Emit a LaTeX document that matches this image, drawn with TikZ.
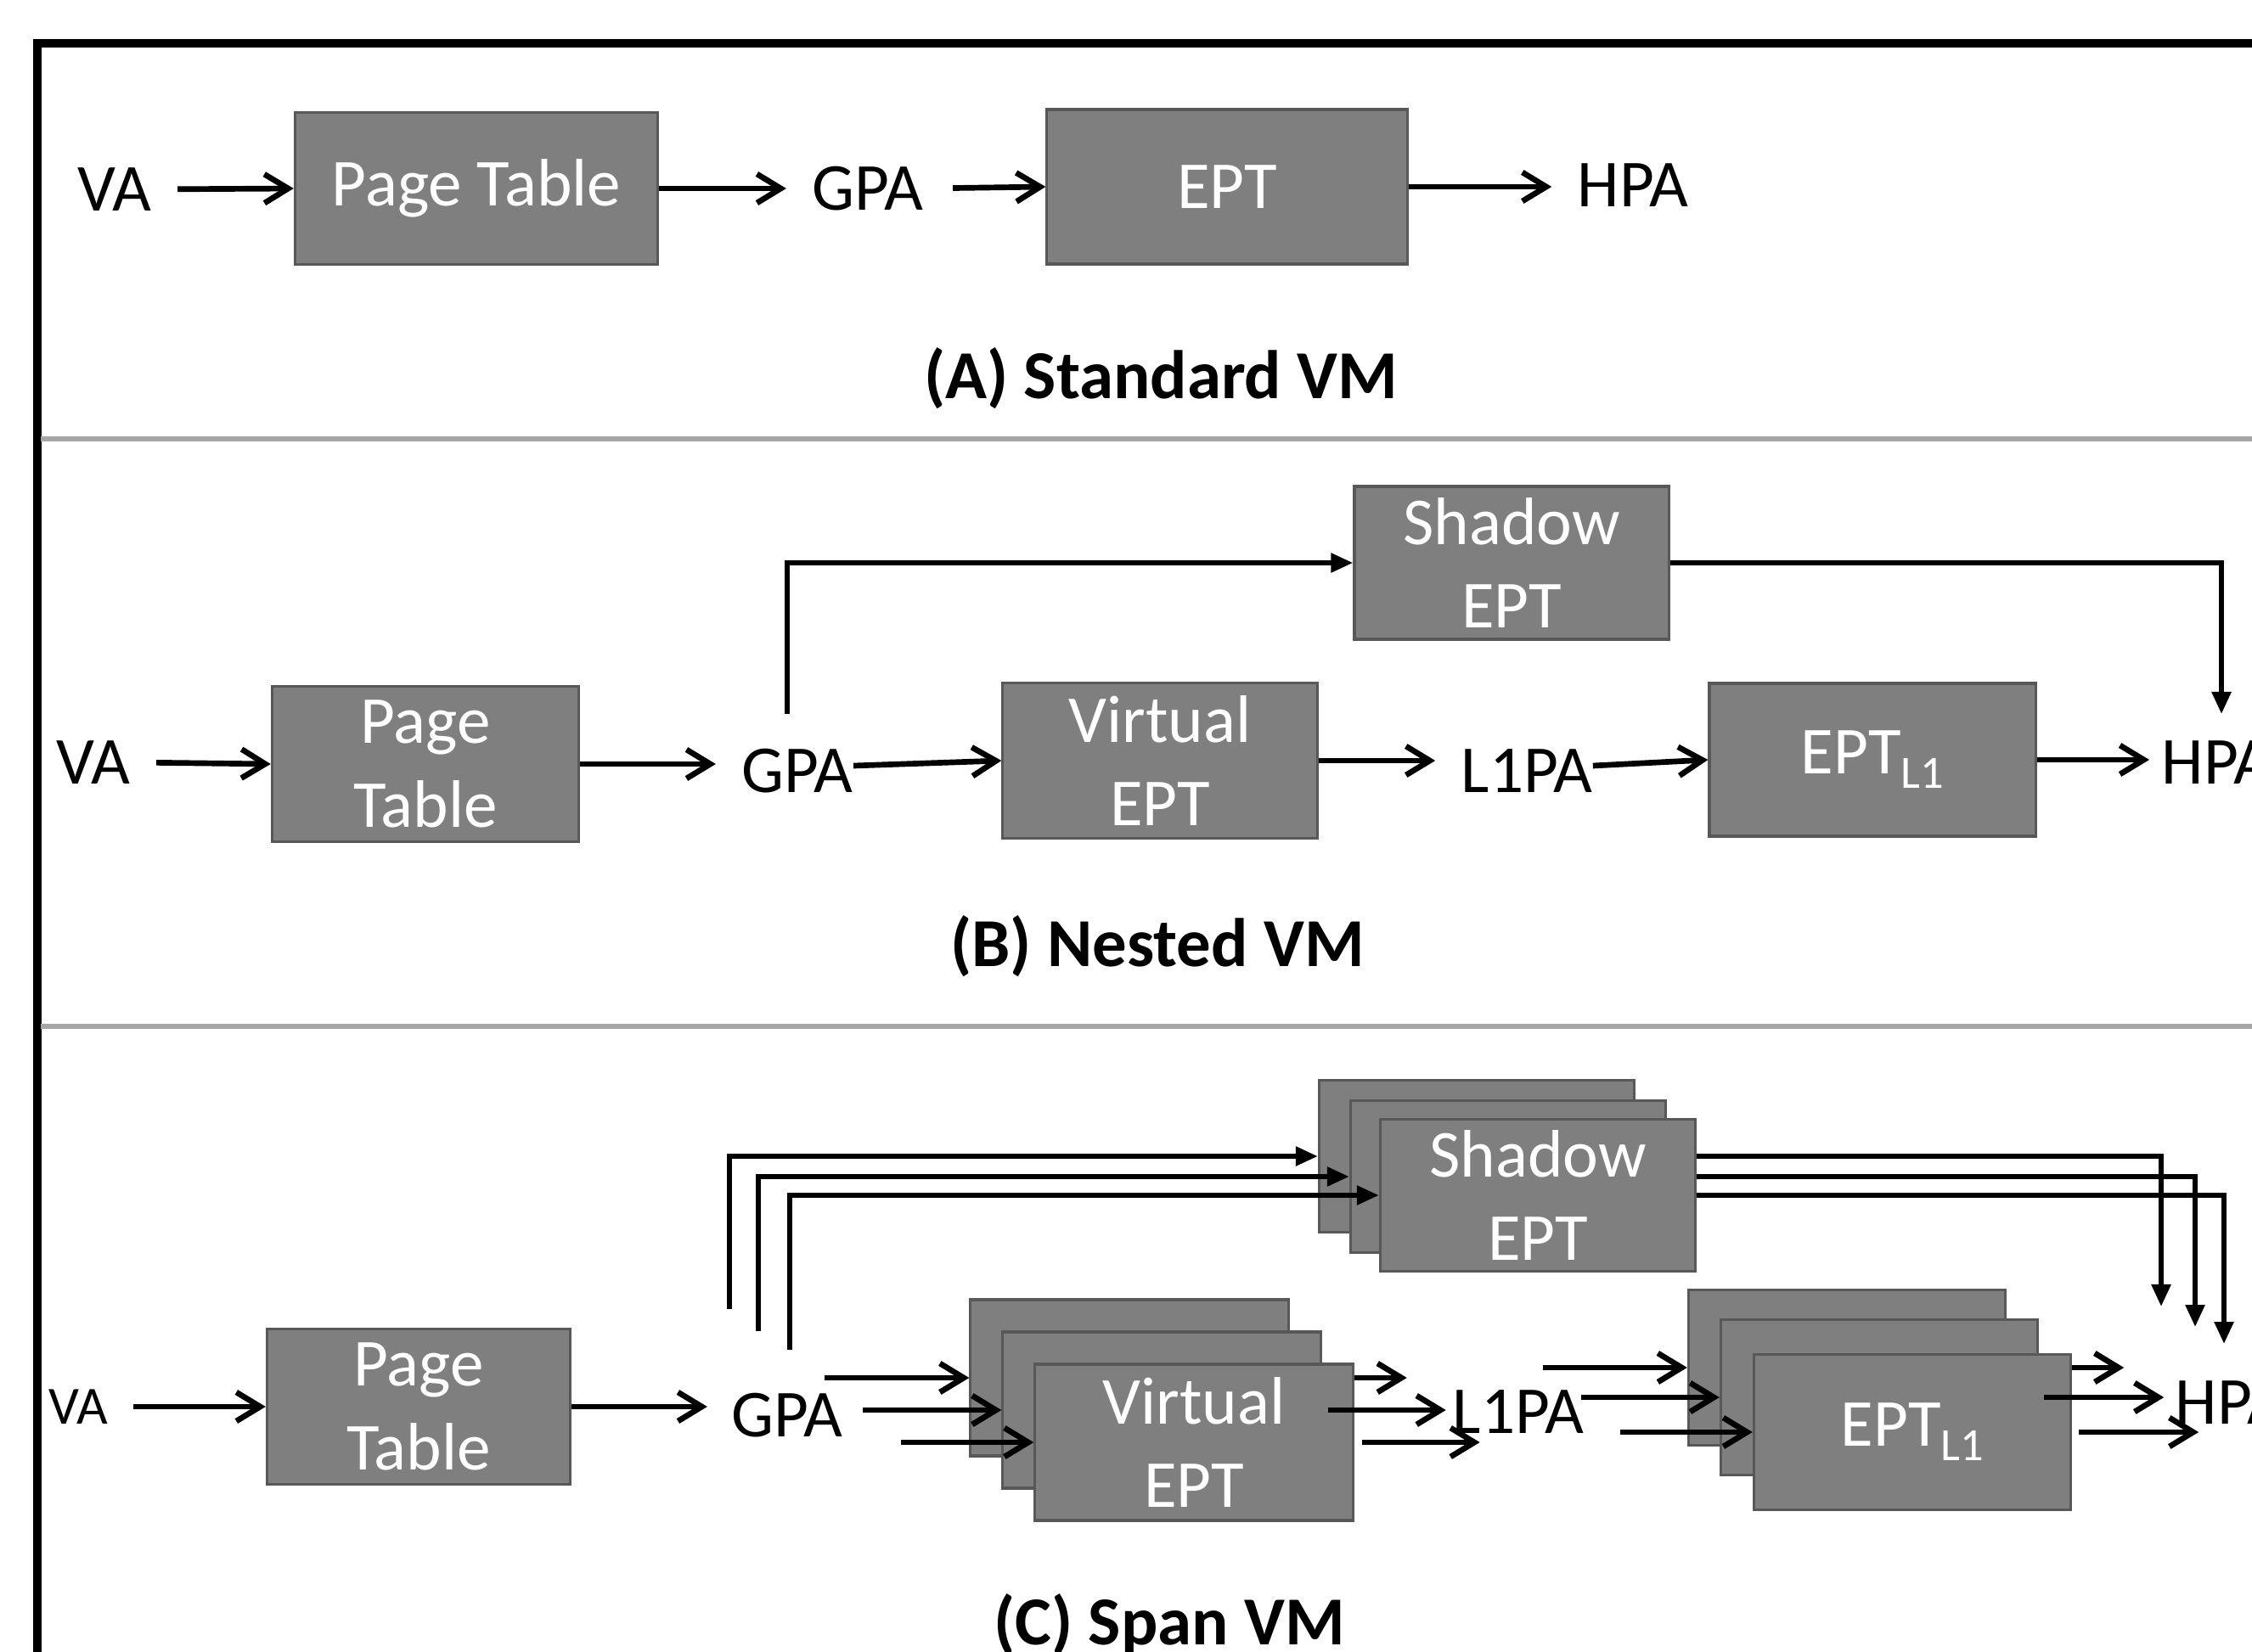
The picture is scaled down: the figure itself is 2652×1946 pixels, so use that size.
\documentclass[tikz,border=0pt]{standalone}
\usepackage{fontspec}
\setmainfont{Carlito}
\usetikzlibrary{arrows.meta,calc}
\definecolor{boxgray}{RGB}{127,127,127}
\definecolor{boxedge}{RGB}{88,88,88}
\definecolor{sepgray}{RGB}{166,166,166}
\newcommand{\lone}{\raisebox{-4.8pt}{\fontsize{15.5}{16}\selectfont L1}}
\tikzset{
	tbl/.style={draw=boxedge,fill=boxgray,line width=0.9pt,text=white,align=center,inner sep=0pt,font=\fontsize{22.5}{28}\selectfont},
	lbl/.style={inner sep=0pt,font=\fontsize{22.5}{28}\selectfont},
	ttl/.style={anchor=base,inner sep=0pt,font=\fontsize{23}{28}\selectfont\bfseries},
	arr/.style={line width=1.9pt,-{Straight Barb[length=0.28cm,width=0.34cm]}},
	elb/.style={line width=1.6pt,-{Triangle[length=0.26cm,width=0.22cm]}},
}
\begin{document}
\begin{tikzpicture}[x=0.01cm,y=-0.01cm]
		\useasboundingbox (0,0) rectangle (2652,1946);
		
		\draw[line width=2.6pt] (44,1946) -- (44,51) -- (2652,51);
		\draw[sepgray,line width=1.7pt] (48,517) -- (2652,517);
		\draw[sepgray,line width=1.7pt] (48,1209) -- (2652,1209);
		
		\node[lbl] (va1) at (135,223) {VA};
		\node[tbl,minimum width=4.27cm,minimum height=1.79cm] (pt1) at (561,222) {Page Table};
		\node[lbl] (gpa1) at (1022,222) {GPA};
		\node[tbl,minimum width=4.24cm,minimum height=1.82cm] (ept1) at (1445,220) {EPT};
		\node[lbl] (hpa1) at (1923,218) {HPA};
		\draw[arr,shorten <=0.3cm] (va1.east) -- (pt1.west);
		\draw[arr,shorten >=0.3cm] (pt1.east) -- (pt1.east -| gpa1.west);
		\draw[arr,shorten <=0.34cm] (gpa1.east) -- (ept1.west);
		\draw[arr,shorten >=0.3cm] (ept1.east) -- (ept1.east -| hpa1.west);
		\node[ttl] (ta) at (1367,470) {(A) Standard VM};
		
		\node[lbl] (va2) at (110,898) {VA};
		\node[tbl,minimum width=3.61cm,minimum height=1.83cm] (pt2) at (501,900) {Page\\Table};
		\node[lbl] (gpa2) at (939,908) {GPA};
		\node[tbl,minimum width=3.70cm,minimum height=1.83cm] (ve2) at (1366,896) {Virtual\\EPT};
		\node[lbl] (l1pa2) at (1798,908) {L1PA};
		\node[tbl,minimum width=3.84cm,minimum height=1.80cm] (el2) at (2205,895) {EPT\lone};
		\node[lbl,anchor=west] (hpa2) at (2545,898) {HPA};
		\node[tbl,minimum width=3.70cm,minimum height=1.80cm] (sh2) at (1780,663) {Shadow\\EPT};
		\coordinate (up2) at (927,841);
		\coordinate (dn2) at (2616,841);
		\draw[arr,shorten <=0.3cm] (va2.east) -- (pt2.west);
		\draw[arr,shorten >=0.3cm] (pt2.east) -- (pt2.east -| gpa2.west);
		\draw[arr] ($(gpa2.east)+(0,-6)$) -- (ve2.west);
		\draw[arr,shorten >=0.3cm] (ve2.east) -- (ve2.east -| l1pa2.west);
		\draw[arr] ($(l1pa2.east)+(0,-6)$) -- (el2.west);
		\draw[arr,shorten >=0.14cm] (el2.east) -- (el2.east -| hpa2.west);
		\draw[elb] (up2) |- (sh2.west);
		\draw[elb] (sh2.east) -| (dn2);
		\node[ttl] (tb) at (1363,1138) {(B) Nested VM};
		
		\node[lbl,font=\fontsize{18}{22}\selectfont] (va3) at (92,1657) {VA};
		\node[tbl,minimum width=3.57cm,minimum height=1.83cm] (pt3) at (493,1657) {Page\\Table};
		\node[lbl] (gpa3) at (927,1667) {GPA};
		\node[tbl,minimum width=3.74cm,minimum height=1.84cm] (vb) at (1330,1623) {};
		\node[tbl,minimum width=3.74cm,minimum height=1.84cm] (vm) at (1368,1661) {};
		\node[tbl,minimum width=3.74cm,minimum height=1.84cm] (vf) at (1406,1699) {Virtual\\EPT};
		\node[lbl] (l1pa3) at (1788,1663) {L1PA};
		\node[tbl,minimum width=3.73cm,minimum height=1.83cm] (eb) at (2175,1611) {};
		\node[tbl,minimum width=3.73cm,minimum height=1.83cm] (em) at (2213,1646) {};
		\node[tbl,minimum width=3.73cm,minimum height=1.83cm] (ef) at (2252,1687) {EPT\lone};
		\node[lbl,anchor=west] (hpa3) at (2561,1652) {HPA};
		\node[tbl,minimum width=3.71cm,minimum height=1.79cm] (sb) at (1739,1362) {};
		\node[tbl,minimum width=3.71cm,minimum height=1.79cm] (sm) at (1776,1386) {};
		\node[tbl,minimum width=3.71cm,minimum height=1.79cm] (sf) at (1811,1408) {Shadow\\EPT};
		\coordinate (upa) at (859,1542);
		\coordinate (upb) at (893,1568);
		\coordinate (upc) at (930,1590);
		\coordinate (dna) at (2545,1539);
		\coordinate (dnb) at (2585,1563);
		\coordinate (dnc) at (2619,1583);
		
		\draw[arr,shorten <=0.29cm] (va3.east) -- (pt3.west);
		\draw[arr,shorten >=0.28cm] (pt3.east) -- (pt3.east -| gpa3.west);
		\draw[arr] ($(vb.west)+(-170,0)$) -- (vb.west);
		\draw[arr] ($(vm.west)+(-163,0)$) -- (vm.west);
		\draw[arr] ($(vf.west)+(-156,0)$) -- (vf.west);
		\draw[arr] (vb.east -| vf.east) -- ++(62,0);
		\draw[arr] ($(vm.east)+(7,0)$) -- ++(139,0);
		\draw[arr] ($(vf.east)+(9,0)$) -- ++(139,0);
		\draw[arr] ($(eb.west)+(-170,0)$) -- (eb.west);
		\draw[arr] ($(em.west)+(-163,0)$) -- (em.west);
		\draw[arr] ($(ef.west)+(-156,0)$) -- (ef.west);
		\draw[arr] (eb.east -| ef.east) -- ++(61,0);
		\draw[arr] ($(em.east)+(6,0)$) -- ++(141,0);
		\draw[arr] ($(ef.east)+(8,0)$) -- ++(141,0);
		\draw[elb] (upa) |- (sb.west);
		\draw[elb] (upb) |- (sm.west);
		\draw[elb] (upc) |- (sf.west);
		\draw[elb] (sb.east -| sf.east) -| (dna);
		\draw[elb] (sm.east -| sf.east) -| (dnb);
		\draw[elb] (sf.east) -| (dnc);
		\node[ttl] (tc) at (1377,1937) {(C) Span VM};
		
\end{tikzpicture}
\end{document}
